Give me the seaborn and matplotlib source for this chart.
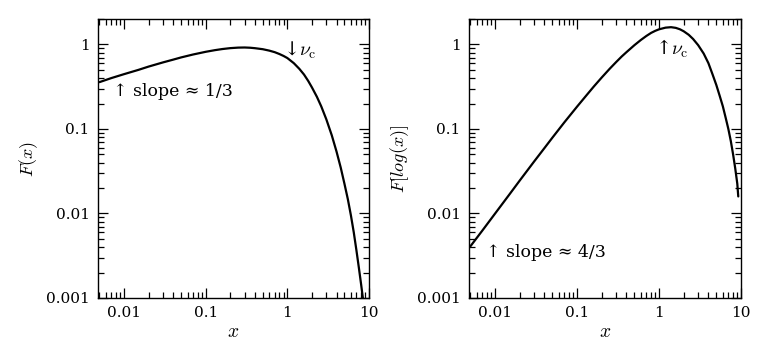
import numpy as np
import pandas as pd
import seaborn as sns
import matplotlib.pyplot as plt
from matplotlib.ticker import FixedLocator, LogLocator, FuncFormatter, NullFormatter

# values
x_left = [0.005, 0.007, 0.01, 0.015, 0.02, 0.03, 0.04, 0.05, 0.07, 0.1, 0.13, 0.16, 0.2,
          0.25, 0.3, 0.35, 0.4, 0.5, 0.6, 0.7, 0.8, 0.9, 1.0, 1.2, 1.4, 1.6, 1.8, 2.0,
          2.3, 2.6, 3.0, 3.5, 4.0, 4.5, 5.0, 5.5, 6.0, 6.5, 7.0, 7.5, 8.0, 8.5, 9.0]
f_x = [0.358, 0.400, 0.445, 0.500, 0.547, 0.613, 0.661, 0.702, 0.760, 0.818, 0.856, 0.882,
       0.904, 0.917, 0.920, 0.914, 0.903, 0.878, 0.845, 0.810, 0.770, 0.730, 0.690, 0.600,
       0.515, 0.440, 0.370, 0.310, 0.240, 0.185, 0.130, 0.084, 0.054, 0.035, 0.0225,
       0.0148, 0.0095, 0.0060, 0.0037, 0.0023, 0.00145, 0.00092, 0.00058]

x_right = [0.005, 0.007, 0.01, 0.015, 0.02, 0.03, 0.04, 0.05, 0.07, 0.1, 0.13, 0.16, 0.2,
           0.25, 0.3, 0.35, 0.4, 0.5, 0.6, 0.7, 0.8, 0.9, 1.0, 1.2, 1.4, 1.6, 1.8, 2.0,
           2.3, 2.6, 3.0, 3.5, 4.0, 4.5, 5.0, 5.5, 6.0, 6.5, 7.0, 7.5, 8.0, 8.5, 9.0, 9.25]
f_logx = [0.0041, 0.0063, 0.0100, 0.0169, 0.0246, 0.0414, 0.0595, 0.079, 0.120, 0.184,
          0.250, 0.318, 0.407, 0.516, 0.620, 0.720, 0.810, 0.980, 1.13, 1.26, 1.37, 1.45,
          1.51, 1.58, 1.60, 1.57, 1.51, 1.43, 1.30, 1.16, 0.98, 0.78, 0.60, 0.44, 0.33,
          0.245, 0.185, 0.135, 0.100, 0.072, 0.050, 0.034, 0.0225, 0.0159]

sns.set_style('ticks')
plt.rcParams['font.family'] = ['DejaVu Serif']
plt.rcParams['mathtext.fontset'] = 'cm'
plt.rcParams['text.color'] = 'black'
plt.rcParams['axes.labelcolor'] = 'black'

left = pd.DataFrame({'x': x_left, 'F': f_x})
right = pd.DataFrame({'x': x_right, 'G': f_logx})

fig = plt.figure(figsize=(7.68, 3.55), dpi=100)
ax1 = fig.add_axes([0.1276, 0.1606, 0.3529, 0.7859])
ax2 = fig.add_axes([0.6107, 0.1606, 0.3542, 0.7859])

sns.lineplot(data=left, x='x', y='F', ax=ax1, color='black', lw=1.6)
sns.lineplot(data=right, x='x', y='G', ax=ax2, color='black', lw=1.6)

fmt = FuncFormatter(lambda v, p: '%g' % v)
for ax in (ax1, ax2):
    ax.set_xscale('log')
    ax.set_yscale('log')
    ax.set_xlim(0.0048, 10)
    ax.set_ylim(0.001, 2.0)
    ax.xaxis.set_major_locator(FixedLocator([0.01, 0.1, 1, 10]))
    ax.yaxis.set_major_locator(FixedLocator([0.001, 0.01, 0.1, 1]))
    ax.xaxis.set_minor_locator(LogLocator(base=10, subs=np.arange(2, 10)))
    ax.yaxis.set_minor_locator(LogLocator(base=10, subs=np.arange(2, 10)))
    ax.xaxis.set_major_formatter(fmt)
    ax.yaxis.set_major_formatter(fmt)
    ax.xaxis.set_minor_formatter(NullFormatter())
    ax.yaxis.set_minor_formatter(NullFormatter())
    ax.tick_params(which='both', direction='in', top=True, right=True, labelsize=11,
                   width=0.9, colors='black', pad=6)
    ax.tick_params(which='major', length=7)
    ax.tick_params(which='minor', length=4)
    for s in ax.spines.values():
        s.set_linewidth(1.0)
        s.set_color('black')
    ax.set_xlabel('$x$', fontsize=14, labelpad=2)

ax1.set_ylabel('$F(x)$', fontsize=13, labelpad=4)
ax2.set_ylabel('$F[log(x)]$', fontsize=13, labelpad=4)

ax1.text(0.0074, 0.28, '\u2191 slope \u2248 1/3', fontsize=12.5, ha='left', va='center')
ax1.text(0.88, 0.84, '\u2193$\\nu_{\\rm c}$', fontsize=14, ha='left', va='center')
ax2.text(0.0077, 0.0035, '\u2191 slope \u2248 4/3', fontsize=12.5, ha='left', va='center')
ax2.text(0.88, 0.88, '\u2191$\\nu_{\\rm c}$', fontsize=14, ha='left', va='center')

fig.savefig('out.png', dpi=100)
